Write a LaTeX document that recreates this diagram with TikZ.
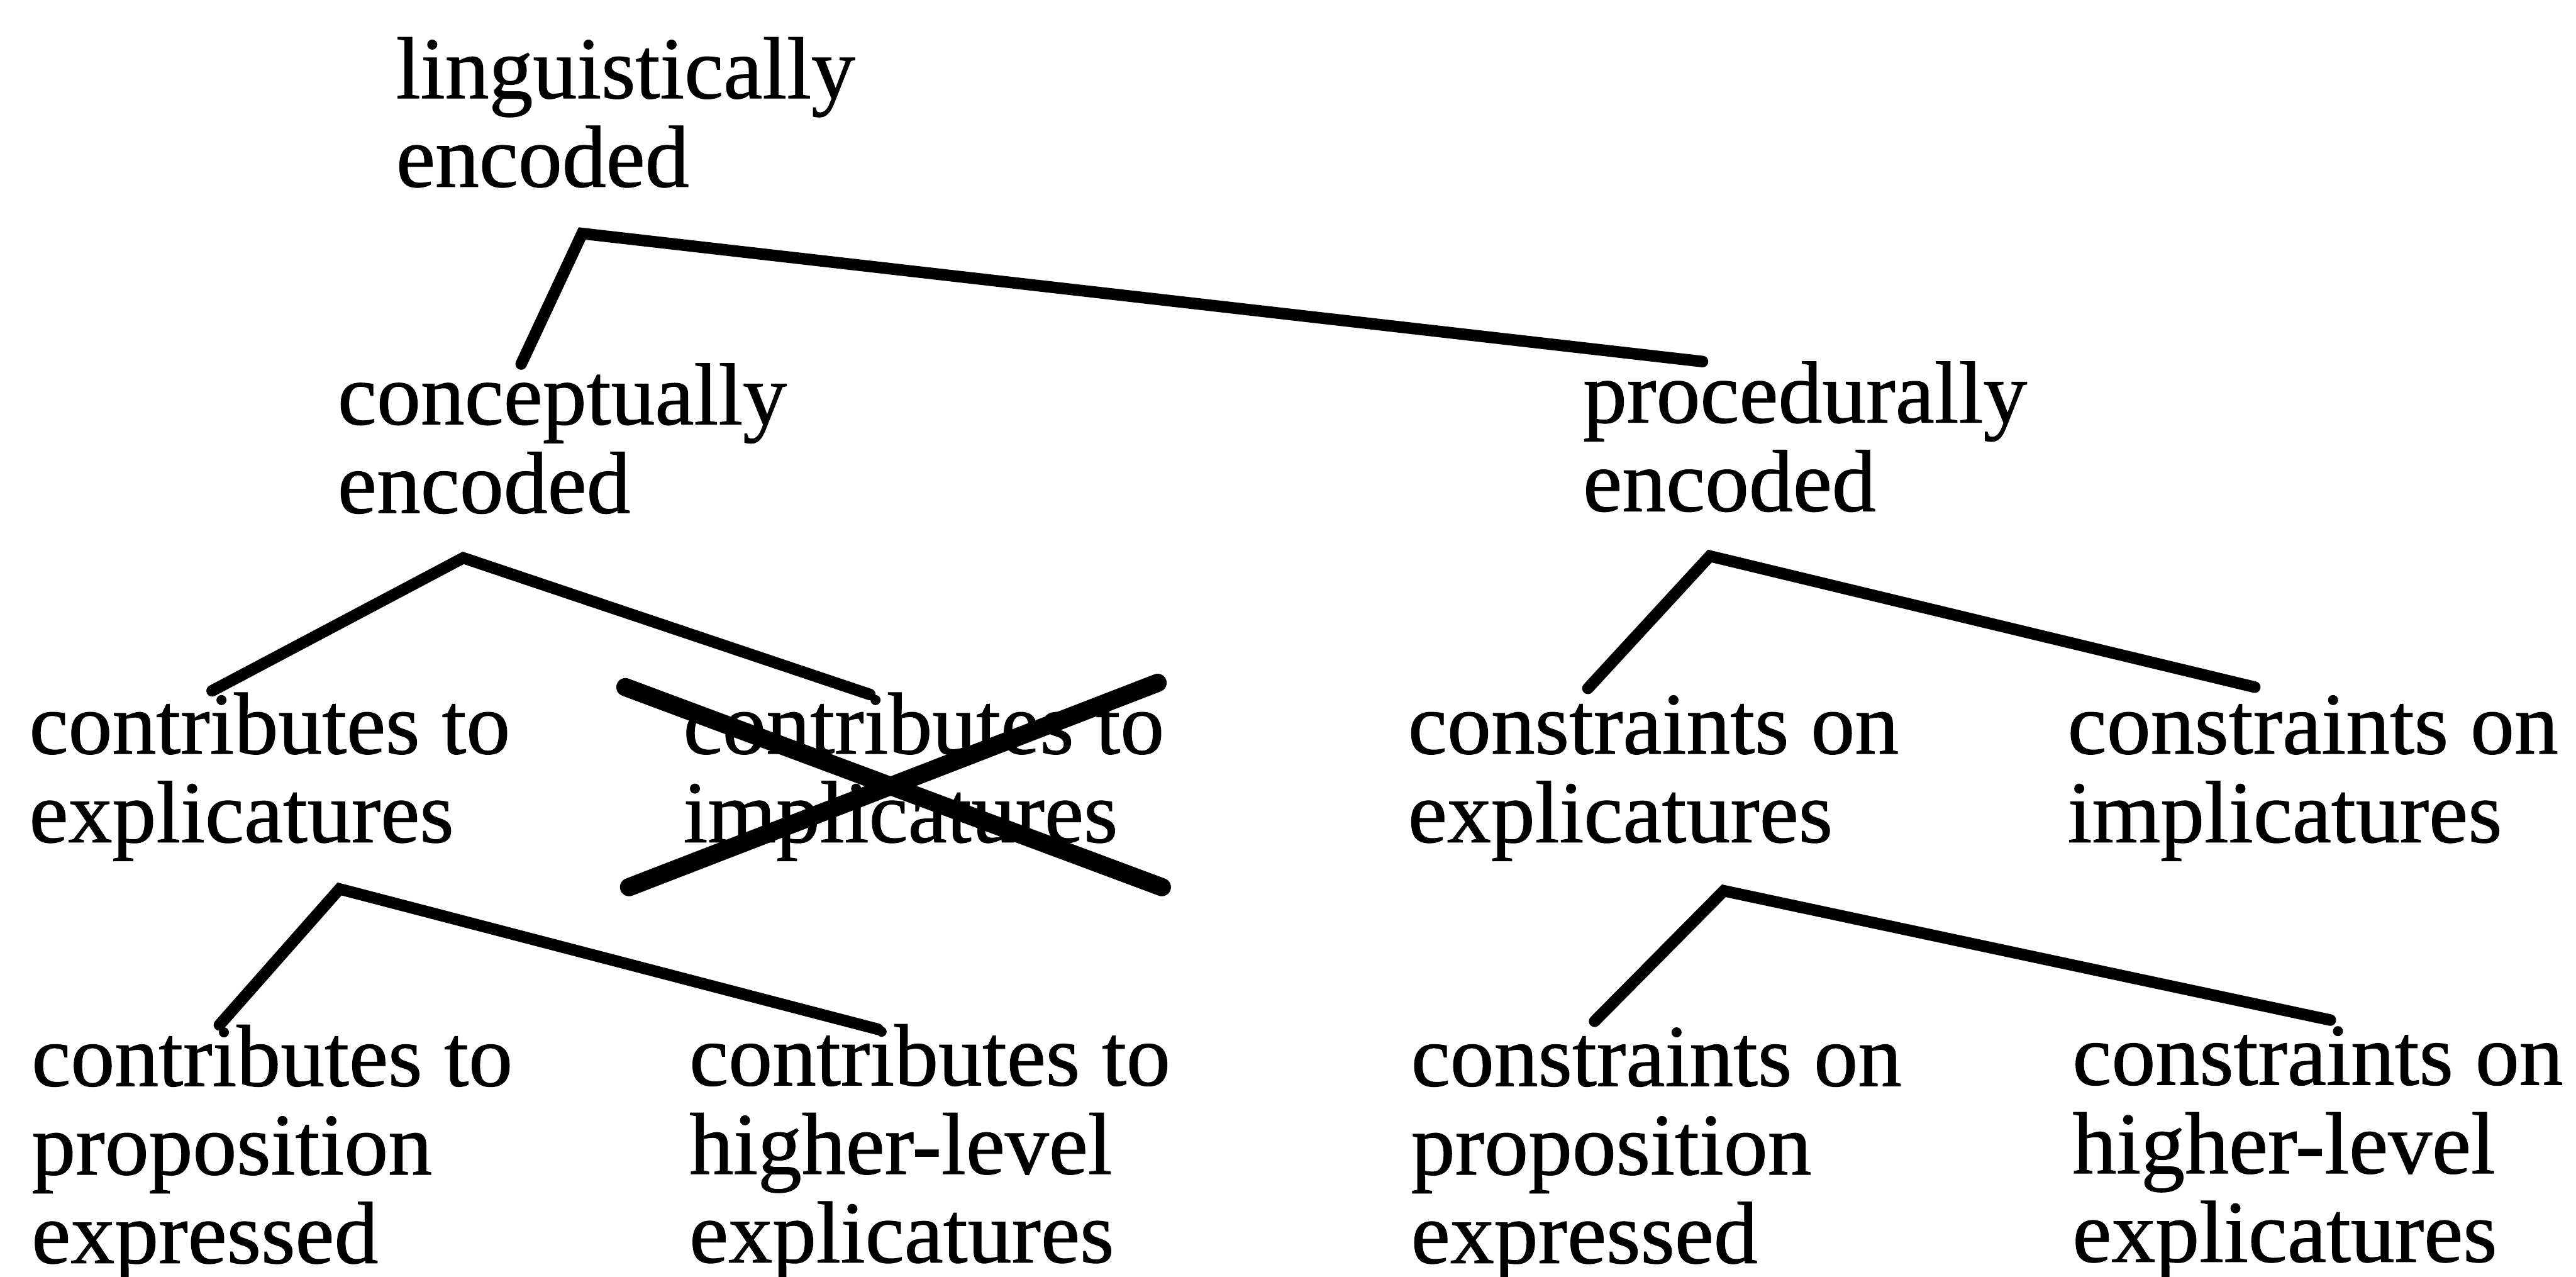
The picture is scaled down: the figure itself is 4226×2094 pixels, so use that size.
\documentclass[tikz,border=0pt]{standalone}
\usepackage{fontspec}
\setmainfont{Liberation Serif}[FakeBold=0.8]
% stacked lines of a label, first baseline on the node's base
\newcommand{\labellines}[1]{\begin{tabular}[t]{@{}l@{}}#1\end{tabular}}
\begin{document}
\begin{tikzpicture}[x=0.01cm,y=-0.01cm,
  label/.style={anchor=base west, inner sep=0pt, outer sep=0pt,
    font=\fontsize{41}{41.3}\selectfont},
  branch/.style={line width=5.4pt, line join=miter, line cap=round},
  strike/.style={line width=8.5pt, line cap=round}]
\useasboundingbox[fill=white] (0,0) rectangle (4226,2094);

% labels
\node[label] (ling) at (650,161)  {\labellines{linguistically\\encoded}};
\node[label] (conc) at (554,696)  {\labellines{conceptually\\encoded}};
\node[label] (proc) at (2597,693) {\labellines{procedurally\\encoded}};
\node[label] (cexp) at (48,1236)   {\labellines{contributes to\\explicatures}};
\node[label] (cimp) at (1121,1236) {\labellines{contributes to\\implicatures}};
\node[label] (kexp) at (2310,1236) {\labellines{constraints on\\explicatures}};
\node[label] (kimp) at (3392,1236) {\labellines{constraints on\\implicatures}};
\node[label] (cpro) at (52,1781)   {\labellines{contributes to\\proposition\\expressed}};
\node[label] (chig) at (1131,1780) {\labellines{contributes to\\higher-level\\explicatures}};
\node[label] (kpro) at (2315,1781) {\labellines{constraints on\\proposition\\expressed}};
\node[label] (khig) at (3400,1779) {\labellines{constraints on\\higher-level\\explicatures}};

% fork points below each parent
\coordinate (ling-fork) at ([shift={(305,222)}]ling.base west);
\coordinate (conc-fork) at ([shift={(206,219)}]conc.base west);
\coordinate (proc-fork) at ([shift={(208,219)}]proc.base west);
\coordinate (cexp-fork) at ([shift={(509,222)}]cexp.base west);
\coordinate (kexp-fork) at ([shift={(518,225)}]kexp.base west);

% branch ends above each child
\coordinate (conc-top) at ([shift={(301,-99)}]conc.base west);
\coordinate (proc-top) at ([shift={(196,-100)}]proc.base west);
\coordinate (cexp-top) at ([shift={(300,-103)}]cexp.base west);
\coordinate (cimp-top) at ([shift={(306,-97)}]cimp.base west);
\coordinate (kexp-top) at ([shift={(295,-107)}]kexp.base west);
\coordinate (kimp-top) at ([shift={(307,-109)}]kimp.base west);
\coordinate (cpro-top) at ([shift={(308,-100)}]cpro.base west);
\coordinate (chig-top) at ([shift={(309,-92)}]chig.base west);
\coordinate (kpro-top) at ([shift={(301,-106)}]kpro.base west);
\coordinate (khig-top) at ([shift={(423,-106)}]khig.base west);

% tree branches
\draw[branch] (conc-top) -- (ling-fork) -- (proc-top);
\draw[branch] (cexp-top) -- (conc-fork) -- (cimp-top);
\draw[branch] (kexp-top) -- (proc-fork) -- (kimp-top);
\draw[branch] (cpro-top) -- (cexp-fork) -- (chig-top);
\draw[branch] (kpro-top) -- (kexp-fork) -- (khig-top);

% cross over the rejected category
\coordinate (x-nw) at ([shift={(-95,-109)}]cimp.base west);
\coordinate (x-se) at ([shift={(785,219)}]cimp.base west);
\coordinate (x-sw) at ([shift={(-89,219)}]cimp.base west);
\coordinate (x-ne) at ([shift={(778,-116)}]cimp.base west);
\draw[strike] (x-nw) -- (x-se);
\draw[strike] (x-sw) -- (x-ne);
\end{tikzpicture}
\end{document}
